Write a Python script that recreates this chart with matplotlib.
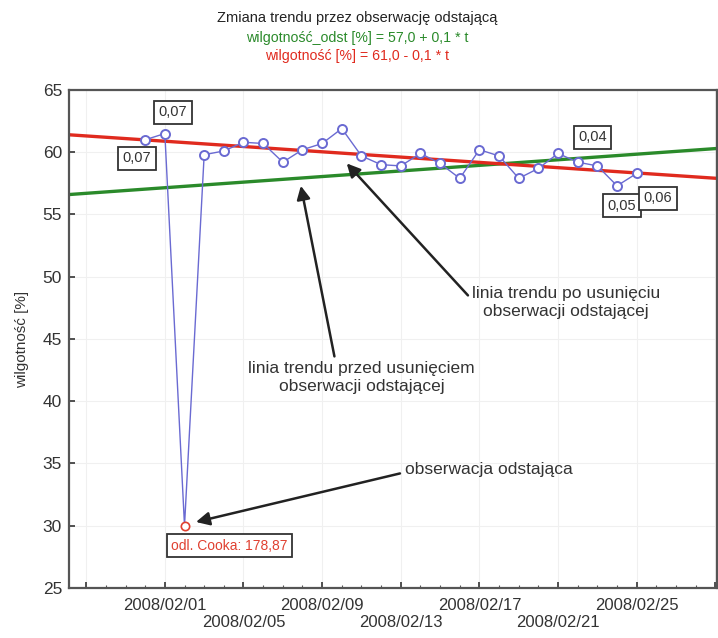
import numpy as np
import matplotlib
matplotlib.use("Agg")
import matplotlib.pyplot as plt
import matplotlib.dates as mdates
import datetime as dt

plt.rcParams['font.family'] = ['Liberation Sans', 'DejaVu Sans']

# ---- data ----
dates = ["2008-01-31", "2008-02-01", "2008-02-02", "2008-02-03", "2008-02-04",
         "2008-02-05", "2008-02-06", "2008-02-07", "2008-02-08", "2008-02-09",
         "2008-02-10", "2008-02-11", "2008-02-12", "2008-02-13", "2008-02-14",
         "2008-02-15", "2008-02-16", "2008-02-17", "2008-02-18", "2008-02-19",
         "2008-02-20", "2008-02-21", "2008-02-22", "2008-02-23", "2008-02-24",
         "2008-02-25"]
humidity = [61.0, 61.5, 30.0, 59.8, 60.1, 60.8, 60.7, 59.2, 60.2, 60.7,
            61.9, 59.7, 59.0, 58.9, 59.9, 59.1, 57.9, 60.2, 59.7, 57.9,
            58.7, 59.9, 59.2, 58.9, 57.3, 58.3]
outlier_date = "2008-02-02"
outlier_value = 30.0

# trend lines (value at left and right edge of the axis)
trend_dates = ["2008-01-27 03:00", "2008-02-29 02:00"]
trend_red = [61.4, 57.9]     # without outlier
trend_green = [56.6, 60.3]   # with outlier

title = "Zmiana trendu przez obserwację odstającą"
eq_green = "wilgotność_odst [%] = 57,0 + 0,1 * t"
eq_red = "wilgotność [%] = 61,0 - 0,1 * t"
ylabel = "wilgotność [%]"

labels_box = [("0,07", "2008-02-01 10:00", 63.2),
              ("0,07", "2008-01-30 14:00", 59.5),
              ("0,04", "2008-02-22 18:00", 61.2),
              ("0,05", "2008-02-24 06:00", 55.7),
              ("0,06", "2008-02-26 02:00", 56.3)]
cook_label = ("odl. Cooka: 178,87", "2008-02-04 07:00", 28.4)

tick_dates = ["2008-01-28", "2008-02-01", "2008-02-05", "2008-02-09", "2008-02-13",
              "2008-02-17", "2008-02-21", "2008-02-25", "2008-02-29"]
tick_labels = ["", "2008/02/01", "\n2008/02/05", "2008/02/09", "\n2008/02/13",
               "2008/02/17", "\n2008/02/21", "2008/02/25", ""]

def d(s):
    fmt = "%Y-%m-%d %H:%M" if " " in s else "%Y-%m-%d"
    return mdates.date2num(dt.datetime.strptime(s, fmt))

x = np.array([d(s) for s in dates])
y = np.array(humidity)

fig = plt.figure(figsize=(7.18, 6.38), dpi=100)
ax = fig.add_axes([0.0961, 0.0784, 0.9025, 0.7806])

xl = [d(s) for s in trend_dates]
ax.set_xlim(xl[0], xl[1])
ax.set_ylim(25, 65)

ax.grid(True, color='#f0f0f0', lw=0.8)

ax.plot(xl, trend_green, color='#2a8a2a', lw=2.4, zorder=2)
ax.plot(xl, trend_red, color='#e02a1e', lw=2.4, zorder=2)

blue = '#6a6ad2'
ax.plot(x, y, color=blue, lw=1.0, zorder=3)
mask = np.array([s != outlier_date for s in dates])
ax.plot(x[mask], y[mask], ls='none', marker='o', ms=6.5, mfc='white',
        mec=blue, mew=1.4, zorder=4)
ax.plot([d(outlier_date)], [outlier_value], ls='none', marker='o', ms=6,
        mfc='white', mec='#e04030', mew=1.2, zorder=4)

bbox = dict(boxstyle='square,pad=0.3', fc='white', ec='#333333', lw=1.3)
for txt, ds, yy in labels_box:
    ax.text(d(ds), yy, txt, ha='center', va='center', fontsize=10.5,
            color='#333333', bbox=bbox, zorder=5)
ax.text(d(cook_label[1]), cook_label[2], cook_label[0], ha='center', va='center',
        fontsize=10, color='#e04030', bbox=bbox, zorder=5)

ap = dict(arrowstyle='-|>', lw=1.8, color='#222222', mutation_scale=20,
          shrinkA=0, shrinkB=0)
ann_fs = 12.5
ax.annotate("", xy=(d("2008-02-10 06:00"), 59.1), xytext=(d("2008-02-16 10:00"), 48.5),
            arrowprops=ap)
ax.text(d("2008-02-21 10:00"), 47.9, "linia trendu po usunięciu\nobserwacji odstającej",
        ha='center', va='center', fontsize=ann_fs, color='#333333', linespacing=1.25)
ax.annotate("", xy=(d("2008-02-07 22:00"), 57.3), xytext=(d("2008-02-09 15:00"), 43.6),
            arrowprops=ap)
ax.text(d("2008-02-11"), 41.9, "linia trendu przed usunięciem\nobserwacji odstającej",
        ha='center', va='center', fontsize=ann_fs, color='#333333', linespacing=1.25)
ax.annotate("", xy=(d("2008-02-02 14:00"), 30.3), xytext=(d("2008-02-12 23:00"), 34.2),
            arrowprops=ap)
ax.text(d("2008-02-13 05:00"), 34.5, "obserwacja odstająca",
        ha='left', va='center', fontsize=ann_fs, color='#333333')

ax.set_xticks([d(s) for s in tick_dates])
ax.set_xticklabels(tick_labels)
ax.xaxis.set_minor_locator(mdates.DayLocator())
ax.set_yticks(np.arange(25, 66, 5))
ax.tick_params(axis='both', which='major', direction='in', length=4, width=1.2,
               labelsize=12.5, colors='#333333', top=False, right=False)
ax.tick_params(axis='x', which='minor', direction='in', length=2.5, width=0.8,
               colors='#555555')
ax.tick_params(axis='x', pad=7, labelsize=12)
ax.tick_params(axis='y', pad=5)

for sp in ax.spines.values():
    sp.set_color('#555555')
    sp.set_linewidth(1.6)

ax.set_ylabel(ylabel, fontsize=11, color='#333333', labelpad=10)

fig.text(0.497, 0.972, title, ha='center', va='center', fontsize=10.5, color='#222222')
fig.text(0.497, 0.94, eq_green, ha='center', va='center', fontsize=10.2, color='#2a8a2a')
fig.text(0.497, 0.912, eq_red, ha='center', va='center', fontsize=10.2, color='#e02a1e')

fig.savefig("out.png", dpi=100)
